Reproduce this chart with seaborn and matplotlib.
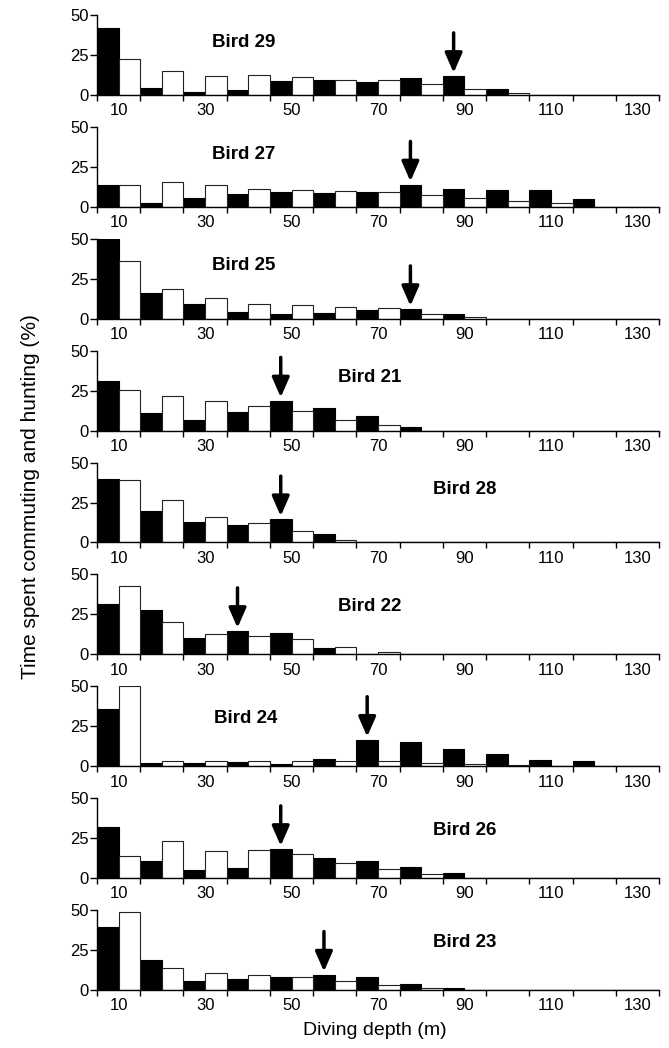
import numpy as np
import pandas as pd
import matplotlib
matplotlib.use("Agg")
import matplotlib.pyplot as plt
import seaborn as sns

# depth bins: black = 5-10, 15-20, ... ; white = 10-15, 20-25, ...
bin_starts = list(range(5, 135, 10))
x_labels = [10, 30, 50, 70, 90, 110, 130]

birds = ["Bird 29", "Bird 27", "Bird 25", "Bird 21", "Bird 28",
         "Bird 22", "Bird 24", "Bird 26", "Bird 23"]

bird29_black = [42, 4.1, 1.7, 3.3, 8.9, 9.3, 8.3, 10.7, 11.8, 3.9, 0, 0, 0]
bird29_white = [22.3, 15, 12, 12.4, 11.4, 9.1, 9.3, 6.6, 3.7, 1.0, 0, 0, 0]

bird27_black = [13.9, 2.4, 5.3, 7.7, 9.2, 8.5, 9.4, 13.9, 11.1, 10.5, 10.3, 4.7, 0]
bird27_white = [13.9, 15.6, 13.9, 11.3, 10.7, 10.0, 9.2, 7.5, 5.6, 3.8, 2.4, 0, 0]

bird25_black = [50, 16.2, 9.0, 4.3, 3.0, 3.7, 5.6, 6.0, 3.0, 0, 0, 0, 0]
bird25_white = [36, 18.5, 13.1, 9.0, 8.4, 7.3, 6.5, 3.2, 1.3, 0, 0, 0, 0]

bird21_black = [31, 11.2, 6.7, 11.9, 18.8, 14.4, 9.3, 2.2, 0, 0, 0, 0, 0]
bird21_white = [25.2, 21.6, 18.8, 15.5, 12.5, 6.7, 3.2, 0, 0, 0, 0, 0, 0]

bird28_black = [40, 19.4, 12.8, 10.9, 14.5, 5.3, 0, 0, 0, 0, 0, 0, 0]
bird28_white = [39.3, 26.3, 16.2, 12.2, 7.0, 1.5, 0, 0, 0, 0, 0, 0, 0]

bird22_black = [31.7, 27.9, 10.2, 14.6, 13.3, 3.8, 0, 0, 0, 0, 0, 0, 0]
bird22_white = [42.5, 20.0, 12.9, 11.5, 9.4, 4.4, 1.3, 0, 0, 0, 0, 0, 0]

bird24_black = [35.7, 2.1, 2.1, 2.6, 1.5, 4.7, 16.5, 15.0, 10.7, 7.5, 4.0, 3.2, 0]
bird24_white = [50, 3.6, 3.2, 3.0, 3.0, 3.0, 3.0, 2.1, 1.5, 0.9, 0, 0, 0]

bird26_black = [32.2, 11.0, 4.9, 6.1, 18.2, 12.9, 11.0, 7.2, 3.0, 0, 0, 0, 0]
bird26_white = [13.6, 23.3, 17.2, 17.6, 15.0, 9.3, 5.7, 2.8, 0, 0, 0, 0, 0]

bird23_black = [39.2, 19.0, 5.6, 6.9, 8.3, 9.6, 8.3, 3.5, 1.2, 0, 0, 0, 0]
bird23_white = [48.8, 13.8, 10.4, 9.4, 7.9, 5.8, 3.1, 1.5, 0, 0, 0, 0, 0]

# arrow depth (m) for each bird, always over a black bar
arrow_depths = [87.5, 77.5, 77.5, 47.5, 47.5, 37.5, 67.5, 47.5, 57.5]

black_series = [bird29_black, bird27_black, bird25_black, bird21_black, bird28_black,
                bird22_black, bird24_black, bird26_black, bird23_black]
white_series = [bird29_white, bird27_white, bird25_white, bird21_white, bird28_white,
                bird22_white, bird24_white, bird26_white, bird23_white]

# where the bird name sits (depth, %)
title_pos = [(39, 33), (39, 33), (39, 33), (68, 33), (90, 33),
             (68, 30), (39.5, 30), (90, 30), (90, 30)]

sns.set_style("ticks")
plt.rcParams["font.family"] = ["Liberation Sans", "DejaVu Sans"]
plt.rcParams["text.color"] = "black"
plt.rcParams["xtick.color"] = "black"
plt.rcParams["ytick.color"] = "black"
plt.rcParams["xtick.labelcolor"] = "black"
plt.rcParams["ytick.labelcolor"] = "black"

fig, axes = plt.subplots(9, 1, figsize=(6.69, 10.48), dpi=100)
fig.subplots_adjust(left=0.145, right=0.985, top=0.9857, bottom=0.0553, hspace=0.4)

edges = [float(e) for e in range(5, 140, 5)]

for i, ax in enumerate(axes):
    black = black_series[i]
    white = white_series[i]
    df_b = pd.DataFrame({"depth": [s + 2.5 for s in bin_starts], "pct": black})
    df_w = pd.DataFrame({"depth": [s + 7.5 for s in bin_starts], "pct": white})
    sns.histplot(data=df_b, x="depth", weights="pct", bins=edges, color="black",
                 edgecolor="black", linewidth=0.8, alpha=1, ax=ax)
    sns.histplot(data=df_w, x="depth", weights="pct", bins=edges, color="white",
                 edgecolor="#222222", linewidth=0.8, alpha=1, ax=ax)

    # arrow above the marked bar
    d = arrow_depths[i]
    h = black[bin_starts.index(int(d - 2.5))]
    ax.annotate("", xy=(d, h + 2), xytext=(d, h + 27),
                arrowprops=dict(arrowstyle="-|>,head_width=0.35,head_length=0.8",
                                lw=2.5, color="black", mutation_scale=15,
                                shrinkA=0, shrinkB=0))

    tx, ty = title_pos[i]
    ax.text(tx, ty, birds[i], ha="center", va="center", fontsize=13.5,
            fontweight="bold", color="black")

    ax.set_xlim(5, 135)
    ax.set_ylim(0, 50)
    ax.set_yticks([0, 25, 50])
    ax.set_xticks(np.arange(5, 136, 10))
    ax.set_xticklabels([])
    ax.set_xticks(x_labels, minor=True)
    ax.set_xticklabels([str(v) for v in x_labels], minor=True)
    ax.tick_params(axis="x", which="major", length=4, width=1, direction="out")
    ax.tick_params(axis="x", which="minor", length=0, labelsize=12, pad=6)
    ax.tick_params(axis="y", length=5, width=1, labelsize=12, pad=1)
    ax.set_xlabel("")
    ax.set_ylabel("")
    for s in ["top", "right"]:
        ax.spines[s].set_visible(False)
    for s in ["left", "bottom"]:
        ax.spines[s].set_linewidth(1)
        ax.spines[s].set_color("black")

fig.text(0.046, 0.526, "Time spent commuting and hunting (%)", rotation=90,
         ha="center", va="center", fontsize=15, color="black")
fig.text(0.56, 0.017, "Diving depth (m)", ha="center", va="center", fontsize=14,
         color="black")

fig.savefig("out.png", dpi=100)
